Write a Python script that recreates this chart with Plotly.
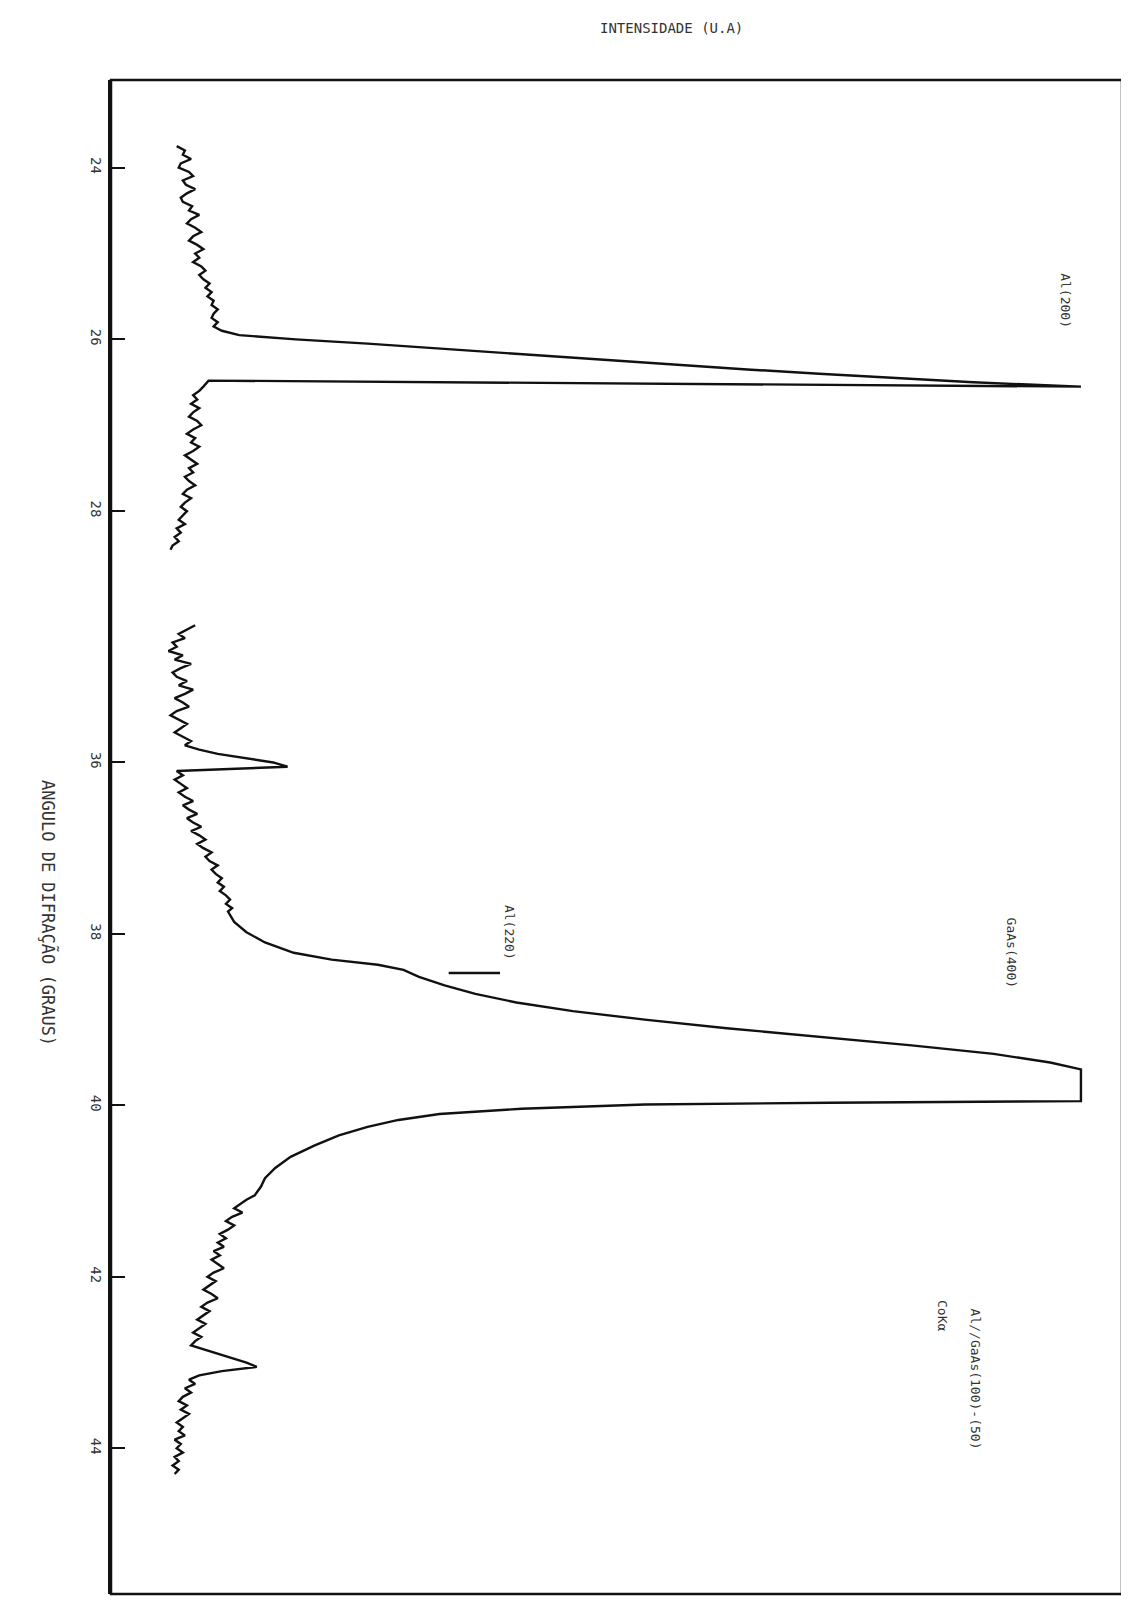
import plotly.graph_objects as go
from plotly.subplots import make_subplots

# ---- data ----
# first scan: Al(200) region
theta_a = [23.75, 23.80, 23.85, 23.90, 23.95, 24.00, 24.05, 24.10, 24.15, 24.20,
           24.25, 24.30, 24.35, 24.40, 24.45, 24.50, 24.55, 24.60, 24.65, 24.70,
           24.75, 24.80, 24.85, 24.90, 24.95, 25.00, 25.05, 25.10, 25.15, 25.20,
           25.25, 25.30, 25.35, 25.40, 25.45, 25.50, 25.55, 25.60, 25.65, 25.70,
           25.75, 25.80, 25.85, 25.90, 25.95, 26.00, 26.05, 26.10, 26.15, 26.20,
           26.25, 26.30, 26.35, 26.40, 26.45, 26.50, 26.55, 26.48, 26.55, 26.60,
           26.65, 26.70, 26.75, 26.80, 26.85, 26.90, 26.95, 27.00, 27.05, 27.10,
           27.15, 27.20, 27.25, 27.30, 27.35, 27.40, 27.45, 27.50, 27.55, 27.60,
           27.65, 27.70, 27.75, 27.80, 27.85, 27.90, 27.95, 28.00, 28.05, 28.10,
           28.15, 28.20, 28.25, 28.30, 28.35, 28.40, 28.45]
int_a = [64, 72, 70, 78, 68, 66, 76, 80, 70, 73,
         82, 74, 68, 70, 79, 76, 86, 78, 74, 82,
         88, 80, 76, 84, 90, 82, 86, 80, 88, 92,
         86, 90, 96, 92, 98, 94, 100, 98, 104, 100,
         98, 104, 100, 108, 125, 180, 250, 310, 380, 440,
         500, 560, 620, 690, 760, 840, 945, 95, 90, 86,
         80, 84, 78, 86, 80, 76, 84, 88, 80, 74,
         82, 78, 86, 80, 72, 78, 84, 76, 80, 72,
         76, 82, 74, 70, 78, 72, 68, 74, 70, 66,
         72, 64, 68, 62, 66, 60, 58]

# second scan: small peak, Al(220) / GaAs(400), peak near 43
theta_b = [34.40, 34.45, 34.50, 34.55, 34.60, 34.65, 34.70, 34.75, 34.80, 34.85,
           34.90, 34.95, 35.00, 35.05, 35.10, 35.15, 35.20, 35.25, 35.30, 35.35,
           35.40, 35.45, 35.50, 35.55, 35.60, 35.65, 35.70, 35.75, 35.80, 35.85,
           35.90, 35.95, 36.00, 36.05, 36.08, 36.10, 36.15, 36.20, 36.25, 36.30,
           36.35, 36.40, 36.45, 36.50, 36.55, 36.60, 36.65, 36.70, 36.75, 36.80,
           36.85, 36.90, 36.95, 37.00, 37.05, 37.10, 37.15, 37.20, 37.25, 37.30,
           37.35, 37.40, 37.45, 37.50, 37.55, 37.60, 37.65, 37.70, 37.74, 37.86,
           37.98, 38.10, 38.22, 38.30, 38.36, 38.42, 38.50, 38.60, 38.70, 38.80,
           38.90, 39.00, 39.10, 39.20, 39.30, 39.40, 39.50, 39.58, 39.95, 39.97,
           39.99, 40.04, 40.10, 40.17, 40.25, 40.35, 40.47, 40.60, 40.73, 40.85,
           40.95,
           41.05, 41.10, 41.15, 41.20, 41.25, 41.30, 41.35, 41.40, 41.45, 41.50,
           41.55, 41.60, 41.65, 41.70, 41.75, 41.80, 41.85, 41.90, 41.95, 42.00,
           42.05, 42.10, 42.15, 42.20, 42.25, 42.30, 42.35, 42.40, 42.45, 42.50,
           42.55, 42.60, 42.65, 42.70, 42.75, 42.80, 42.85, 42.90, 42.95, 43.00,
           43.05, 43.10, 43.15, 43.20, 43.25, 43.30, 43.35, 43.40, 43.45, 43.50,
           43.55, 43.60, 43.65, 43.70, 43.75, 43.80, 43.85, 43.90, 43.95, 44.00,
           44.05, 44.10, 44.15, 44.20, 44.25, 44.30]
int_b = [82, 74, 66, 72, 60, 64, 56, 70, 62, 78,
         68, 60, 64, 74, 66, 80, 72, 62, 70, 76,
         64, 58, 66, 74, 68, 62, 70, 78, 72, 86,
         104, 130, 158, 172, 100, 64, 70, 62, 68, 74,
         66, 72, 80, 70, 76, 84, 74, 80, 88, 78,
         86, 92, 84, 90, 98, 92, 96, 104, 98, 102,
         108, 104, 110, 106, 112, 116, 112, 118, 114, 120,
         132, 150, 178, 215, 260, 285, 300, 325, 355, 395,
         450, 520, 600, 690, 780, 860, 915, 945, 945, 700,
         520, 400, 320, 280, 250, 222, 198, 175, 160, 150,
         146,
         140, 132, 126, 120, 128, 118, 112, 120, 114, 106,
         112, 104, 110, 100, 106, 98, 104, 110, 100, 94,
         102, 96, 90, 98, 104, 94, 88, 96, 90, 84,
         92, 86, 80, 88, 82, 78, 92, 106, 120, 132,
         142, 108, 86, 76, 82, 72, 78, 70, 66, 74,
         68, 76, 70, 64, 70, 66, 72, 62, 68, 64,
         70, 62, 66, 60, 66, 62]

ticks_top = [24, 26, 28]
ticks_bottom = [36, 38, 40, 42, 44]
al220_marker_theta = 38.455
al220_marker_int = [329, 379]

# ---- figure ----
W, H = 1129, 1610
L, R, T, B = 103, 15, 72, 24
PW, PH = W - L - R, H - T - B
fig = make_subplots(rows=2, cols=1, shared_xaxes=True, vertical_spacing=0,
                    row_heights=[492, 983])

line_style = dict(color="#111111", width=2.4)
fig.add_trace(go.Scatter(x=int_a, y=theta_a, mode="lines", line=line_style,
                         showlegend=False, hoverinfo="skip"), row=1, col=1)
fig.add_trace(go.Scatter(x=int_b, y=theta_b, mode="lines", line=line_style,
                         showlegend=False, hoverinfo="skip"), row=2, col=1)

tickfont = dict(family="DejaVu Sans Mono", size=14, color="#333333")
yax_common = dict(showgrid=False, zeroline=False, ticks="inside", ticklen=14,
                  tickwidth=2.2, tickcolor="#111111", showline=True,
                  linewidth=2.5, linecolor="#111111", tickangle=90,
                  tickfont=tickfont)
fig.update_yaxes(range=[28.86, 22.98], tickvals=ticks_top,
                 ticktext=[str(t) for t in ticks_top], row=1, col=1, **yax_common)
fig.update_yaxes(range=[45.70, 33.93], tickvals=ticks_bottom,
                 ticktext=[str(t) for t in ticks_bottom], row=2, col=1, **yax_common)
fig.update_xaxes(range=[0, 985], showgrid=False, zeroline=False,
                 showticklabels=False, ticks="", showline=False)

# frame
fig.add_shape(type="rect", xref="paper", yref="paper", x0=0, x1=1, y0=0, y1=1,
              line=dict(color="#111111", width=2.5))
# Al(220) marker
fig.add_shape(type="line", xref="x2", yref="y2",
              x0=al220_marker_int[0], x1=al220_marker_int[1],
              y0=al220_marker_theta, y1=al220_marker_theta,
              line=dict(color="#111111", width=2.5))

lab_font = dict(family="DejaVu Sans Mono", size=13, color="#333333")
annots = [
    dict(text="Al(200)", x=930, y=25.55, xref="x", yref="y"),
    dict(text="GaAs(400)", x=877, y=38.22, xref="x2", yref="y2"),
    dict(text="Al(220)", x=389, y=37.98, xref="x2", yref="y2"),
    dict(text="Al//GaAs(100)-(50)", x=842, y=43.19, xref="x2", yref="y2"),
    dict(text="CoKα", x=810, y=42.45, xref="x2", yref="y2"),
]
for a in annots:
    fig.add_annotation(showarrow=False, textangle=90, font=lab_font,
                       xanchor="center", yanchor="middle", **a)

fig.add_annotation(text="INTENSIDADE (U.A)", xref="paper", yref="paper",
                   x=(663 - L) / PW, y=1 + (T - 20) / PH,
                   xanchor="center", yanchor="middle", showarrow=False,
                   font=dict(family="DejaVu Sans Mono", size=14, color="#333333"))
fig.add_annotation(text="ANGULO DE DIFRAÇÃO (GRAUS)", xref="paper", yref="paper",
                   x=(41 - L) / PW, y=1 - (905 - T) / PH,
                   xanchor="center", yanchor="middle", showarrow=False,
                   textangle=90,
                   font=dict(family="DejaVu Sans Mono", size=17, color="#333333"))

fig.update_layout(width=W, height=H, margin=dict(l=L, r=R, t=T, b=B),
                  paper_bgcolor="white", plot_bgcolor="white")
fig.write_html("out.html")
